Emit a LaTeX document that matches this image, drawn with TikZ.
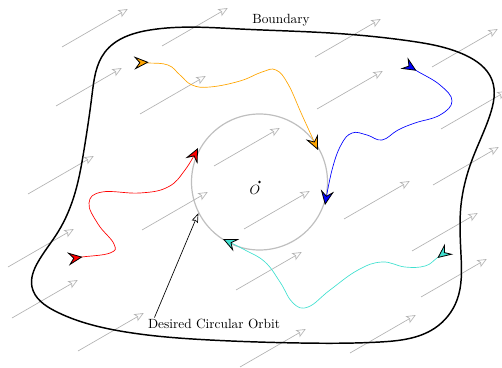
\documentclass[tikz,border=0pt]{standalone}
\usetikzlibrary{arrows.meta,hobby}
\definecolor{orng}{RGB}{255,165,0}
\definecolor{turq}{RGB}{64,224,208}
\begin{document}
\begin{tikzpicture}[x=0.75pt,y=-0.75pt,
  wind/.style={draw=gray!60, line width=0.5pt, -{Stealth[open,length=7pt,width=6pt,inset=1.5pt]}},
  traj/.style={draw=#1, line width=0.5pt,
    {Stealth[reversed,length=11pt,width=10pt,inset=4pt,fill=#1,color=black,line width=0.6pt]}-{Stealth[length=11pt,width=10pt,inset=4pt,fill=#1,color=black,line width=0.6pt]}},
  bound/.style={draw=black, line width=1.1pt},
  orbit/.style={draw=gray!50, line width=0.9pt, circle, minimum size=102pt, inner sep=0pt},
  lbl/.style={inner sep=1pt}
]
\useasboundingbox (0,0) rectangle (502,367);
% wind field
\foreach \p in {(62,47),(162,46),(315,57),(432,67),(56,106),(140,114),(317,109),(441,129),(28,194),(214,166),(433,185),(142,230),(244,229),(344,219),(8,267),(412,251),(12,318),(236,290),(421,297),(78,351),(240,367),(350,353)}
  \draw[wind] \p -- ++(30:2cm);
% boundary
\draw[bound] plot[closed hobby] coordinates {
  (150,30) (240,29) (330,33) (410,41) (465,55) (492,80) (490,115) (472,160)
  (461,205) (461,255) (457,300) (435,328) (380,342) (300,343) (210,340)
  (120,331) (55,311) (32,287) (38,262) (58,232) (75,193) (84,150) (92,95) (105,52)};
\node[lbl] (bnd) at (281,20) {Boundary};
% orbit
\node[orbit] (orb) at (259.5,182) {};
\fill (orb.center) circle (1.1pt);
\node (o) at (255,190) {$O$};
% trajectories
\draw[traj=orng] plot[smooth, tension=0.7] coordinates {(134,63) (148,63) (168,65) (180,75) (192,85) (210,87) (240,81) (262,72) (276,70) (288,84) (302,115) (318,150)};
\draw[traj=red] plot[smooth, tension=0.7] coordinates {(68,259) (82,257) (110,253) (114,244) (98,224) (89,203) (102,192) (140,193) (168,187) (185,170) (198,148)};
\draw[traj=blue] plot[smooth, tension=0.7] coordinates {(404,63) (417,71) (440,85) (452,101) (440,115) (415,123) (398,130) (382,140) (367,135) (352,133) (341,145) (332,170) (325,205)};
\draw[traj=turq] plot[smooth, tension=0.7] coordinates {(449,249) (437,258) (425,266) (405,267) (382,262) (358,270) (330,290) (308,307) (293,303) (280,282) (265,262) (245,250) (223,239)};
% annotation
\node[lbl] (dco) at (214,324) {Desired Circular Orbit};
\draw[line width=0.5pt, -{Stealth[open,length=7pt,width=5pt,inset=1pt]}] ([xshift=6pt]dco.north west) -- (orb.207);
\end{tikzpicture}
\end{document}
